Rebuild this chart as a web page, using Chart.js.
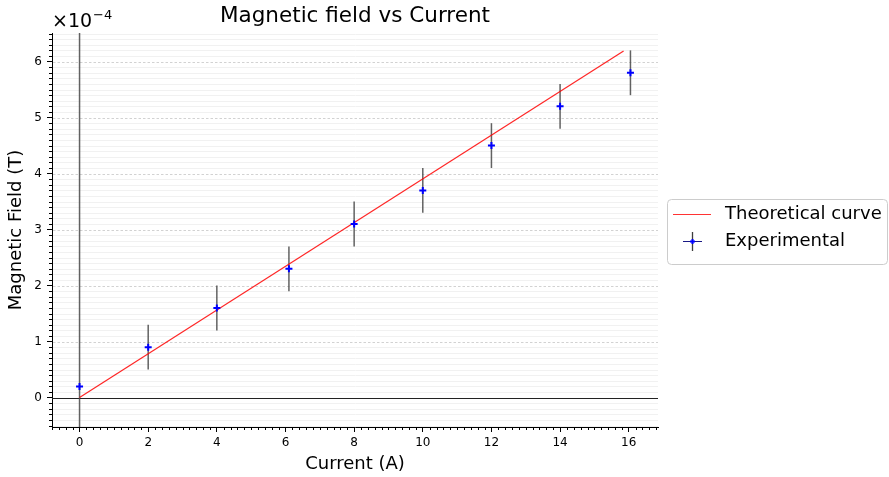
<!DOCTYPE html>
<html><head><meta charset="utf-8">
<script src="https://cdn.jsdelivr.net/npm/chart.js@4.4.1/dist/chart.umd.min.js"></script>
<style>html,body{margin:0;padding:0;background:#fff;overflow:hidden}canvas{display:block}</style>
</head><body>
<canvas id="c" width="889" height="477"></canvas>
<script>
// ---- data ----
const currents = [0, 2, 4, 6.1, 8, 10, 12, 14, 16.05];
const fieldValues = [0.2e-4, 0.9e-4, 1.6e-4, 2.3e-4, 3.1e-4, 3.7e-4, 4.5e-4, 5.2e-4, 5.8e-4];
const fieldErrors = [1e-3, 0.4e-4, 0.4e-4, 0.4e-4, 0.4e-4, 0.4e-4, 0.4e-4, 0.4e-4, 0.4e-4];
const theoryCurrents = [0, 15.85];
const theoryFields = [0, 6.19e-4];
const xTickValues = [0, 2, 4, 6, 8, 10, 12, 14, 16];
const yTickValues = [0, 1e-4, 2e-4, 3e-4, 4e-4, 5e-4, 6e-4];
const yTickLabels = ['0', '1', '2', '3', '4', '5', '6'];
const seriesLabels = ['Theoretical curve', 'Experimental'];
const titleText = 'Magnetic field vs Current';
const xTitle = 'Current (A)';
const yTitle = 'Magnetic Field (T)';
const offsetBase = '\u00d710';
const offsetExp = '\u22124';

const FONT = "'DejaVu Sans', sans-serif";
const X_MIN = -0.8025, X_MAX = 16.8525;
const Y_MIN = -0.525e-4, Y_MAX = 6.51e-4;

const decorPlugin = {
  id: 'decor',
  beforeDatasetsDraw(chart) {
    const {ctx, chartArea: a, scales: {x, y}} = chart;
    ctx.save();
    // minor horizontal grid
    ctx.strokeStyle = '#f1f1f1'; ctx.lineWidth = 1;
    for (let k = -5; k <= 65; k++) {
      if (k % 10 === 0) continue;
      const py = Math.round(y.getPixelForValue(k * 1e-5)) + 0.5;
      if (py < a.top || py > a.bottom) continue;
      ctx.beginPath(); ctx.moveTo(a.left + 1, py); ctx.lineTo(a.right, py); ctx.stroke();
    }
    // major horizontal grid (dashed)
    ctx.strokeStyle = '#d2d2d2'; ctx.setLineDash([2.5, 2]);
    yTickValues.forEach(v => {
      const py = Math.round(y.getPixelForValue(v)) + 0.5;
      ctx.beginPath(); ctx.moveTo(a.left + 1, py); ctx.lineTo(a.right, py); ctx.stroke();
    });
    ctx.setLineDash([]);
    // minor ticks
    ctx.strokeStyle = '#000'; ctx.lineWidth = 1;
    for (let k = -5; k <= 65; k++) {
      if (k % 10 === 0) continue;
      const py = Math.round(y.getPixelForValue(k * 1e-5)) + 0.5;
      if (py < a.top || py > a.bottom) continue;
      ctx.beginPath(); ctx.moveTo(a.left - 3, py); ctx.lineTo(a.left, py); ctx.stroke();
    }
    for (let k = -4; k <= 84; k++) {
      if (k % 10 === 0) continue;
      const px = Math.round(x.getPixelForValue(k * 0.2)) + 0.5;
      if (px < a.left || px > a.right) continue;
      ctx.beginPath(); ctx.moveTo(px, a.bottom); ctx.lineTo(px, a.bottom + 3); ctx.stroke();
    }
    // clip to plot area
    ctx.beginPath(); ctx.rect(a.left, a.top, a.right - a.left, a.bottom - a.top); ctx.clip();
    // zero line
    const y0 = Math.round(y.getPixelForValue(0)) + 0.5;
    ctx.strokeStyle = '#222'; ctx.lineWidth = 1;
    ctx.beginPath(); ctx.moveTo(a.left, y0); ctx.lineTo(a.right, y0); ctx.stroke();
    // error bars
    ctx.strokeStyle = 'rgba(70,70,70,0.85)'; ctx.lineWidth = 1.5;
    currents.forEach((c, i) => {
      const px = x.getPixelForValue(c);
      ctx.beginPath();
      ctx.moveTo(px, y.getPixelForValue(fieldValues[i] + fieldErrors[i]));
      ctx.lineTo(px, y.getPixelForValue(fieldValues[i] - fieldErrors[i]));
      ctx.stroke();
    });
    ctx.restore();
  },
  afterDraw(chart) {
    const {ctx, chartArea: a} = chart;
    ctx.save();
    // title
    ctx.fillStyle = '#000';
    ctx.font = `21.5px ${FONT}`;
    ctx.textAlign = 'center'; ctx.textBaseline = 'alphabetic';
    ctx.fillText(titleText, (a.left + a.right) / 2, 22);
    // offset text
    ctx.textAlign = 'left';
    ctx.font = `19px ${FONT}`;
    ctx.fillText(offsetBase, 52, 27);
    const w = ctx.measureText(offsetBase).width;
    ctx.font = `13px ${FONT}`;
    ctx.fillText(offsetExp, 52 + w + 1, 19);
    // legend
    const L = 667, T = 199, R = 888, B = 265;
    ctx.fillStyle = 'rgba(255,255,255,0.85)';
    ctx.strokeStyle = '#cccccc'; ctx.lineWidth = 1;
    ctx.beginPath();
    ctx.roundRect(L + 0.5, T + 0.5, R - L - 1, B - T - 1, 4);
    ctx.fill(); ctx.stroke();
    const r1 = 214.5, r2 = 241.5;
    ctx.strokeStyle = 'rgba(255,0,0,0.8)'; ctx.lineWidth = 1.2;
    ctx.beginPath(); ctx.moveTo(673, r1); ctx.lineTo(711, r1); ctx.stroke();
    ctx.strokeStyle = 'rgba(40,40,40,0.9)'; ctx.lineWidth = 1.3;
    ctx.beginPath(); ctx.moveTo(692.5, r2 - 9.5); ctx.lineTo(692.5, r2 + 9.5); ctx.stroke();
    ctx.strokeStyle = 'rgba(0,0,120,0.9)'; ctx.lineWidth = 1;
    ctx.beginPath(); ctx.moveTo(683, r2); ctx.lineTo(702, r2); ctx.stroke();
    ctx.strokeStyle = '#0000ff'; ctx.lineWidth = 2;
    ctx.beginPath(); ctx.moveTo(690, r2); ctx.lineTo(695, r2); ctx.moveTo(692.5, r2 - 2.5); ctx.lineTo(692.5, r2 + 2.5); ctx.stroke();
    ctx.fillStyle = '#000';
    ctx.font = `18px ${FONT}`;
    ctx.textBaseline = 'middle';
    ctx.fillText(seriesLabels[0], 725, r1);
    ctx.fillText(seriesLabels[1], 725, r2);
    ctx.restore();
  }
};

new Chart(document.getElementById('c'), {
  type: 'scatter',
  data: {
    datasets: [
      {
        label: seriesLabels[0],
        data: theoryCurrents.map((c, i) => ({x: c, y: theoryFields[i]})),
        showLine: true,
        borderColor: 'rgba(255,0,0,0.85)',
        borderWidth: 1.2,
        pointRadius: 0,
        order: 2
      },
      {
        label: seriesLabels[1],
        data: currents.map((c, i) => ({x: c, y: fieldValues[i]})),
        showLine: false,
        pointStyle: 'cross',
        pointRadius: 3.5,
        borderWidth: 2,
        borderColor: '#0000ff',
        backgroundColor: '#0000ff',
        order: 1
      }
    ]
  },
  options: {
    responsive: false,
    animation: false,
    devicePixelRatio: 1,
    layout: {padding: {top: 33, right: 231, left: 0, bottom: 0}},
    plugins: {legend: {display: false}, tooltip: {enabled: false}, title: {display: false}},
    scales: {
      x: {
        type: 'linear', min: X_MIN, max: X_MAX,
        afterBuildTicks: s => { s.ticks = xTickValues.map(v => ({value: v})); },
        afterFit: s => { s.height = 50; },
        ticks: {font: {family: FONT, size: 12}, color: '#000', padding: 4, maxRotation: 0,
                callback: v => String(v)},
        grid: {drawOnChartArea: false, drawTicks: true, tickLength: 5, tickColor: '#000', tickWidth: 1},
        border: {display: true, color: '#000', width: 1},
        title: {display: true, text: xTitle, font: {family: FONT, size: 18}, color: '#000', padding: {top: 0, bottom: 2}}
      },
      y: {
        type: 'linear', min: Y_MIN, max: Y_MAX,
        afterBuildTicks: s => { s.ticks = yTickValues.map(v => ({value: v})); },
        afterFit: s => { s.width = 52; },
        ticks: {font: {family: FONT, size: 12}, color: '#000', padding: 5,
                callback: v => { const i = yTickValues.findIndex(t => Math.abs(t - v) < 1e-9); return i >= 0 ? yTickLabels[i] : ''; }},
        grid: {drawOnChartArea: false, drawTicks: true, tickLength: 5, tickColor: '#000', tickWidth: 1},
        border: {display: true, color: '#000', width: 1},
        title: {display: true, text: yTitle, font: {family: FONT, size: 18}, color: '#000', padding: {top: 6, bottom: 0}}
      }
    }
  },
  plugins: [decorPlugin]
});
</script>
</body></html>
